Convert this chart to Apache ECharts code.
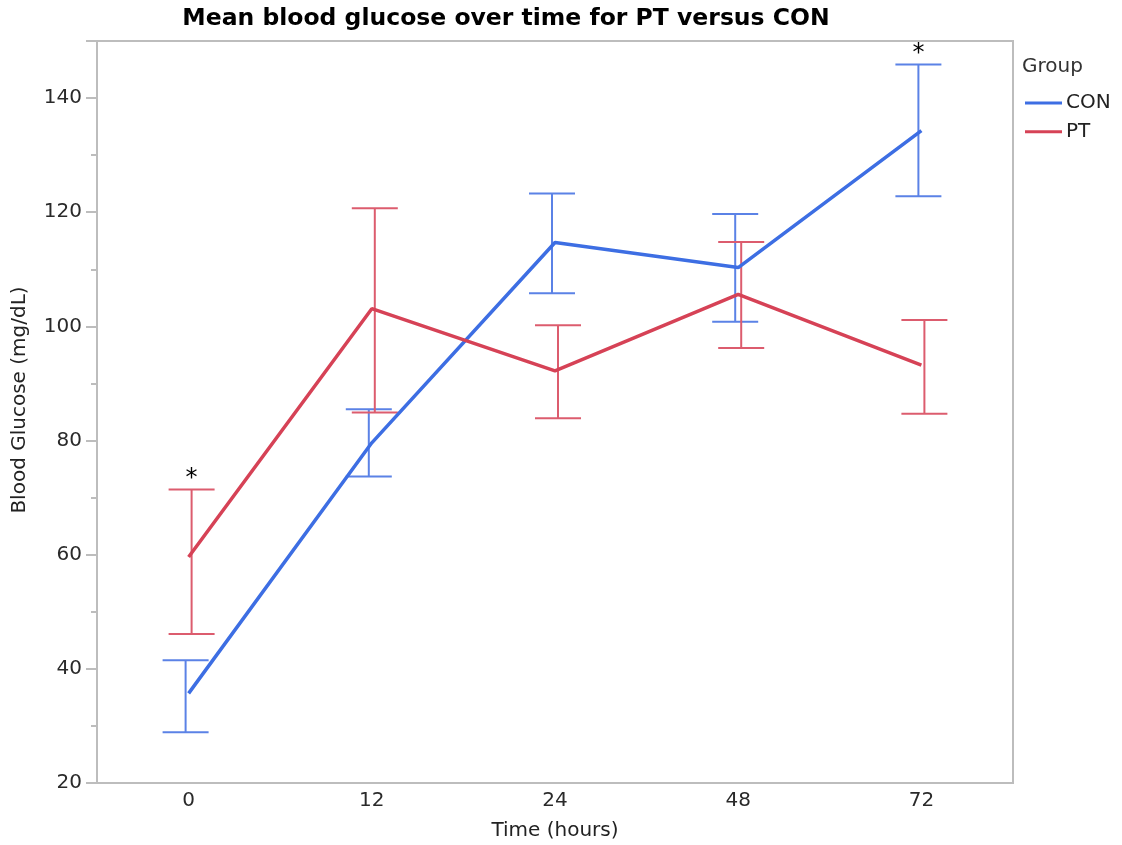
<!DOCTYPE html>
<html>
<head>
<meta charset="utf-8">
<script src="https://cdn.jsdelivr.net/npm/echarts@6/dist/echarts.min.js"></script>
<style>
  html, body { margin: 0; padding: 0; background: #fff; }
  #chart { width: 1122px; height: 845px; }
</style>
</head>
<body>
<div id="chart"></div>
<script>
// Time points (hours)
const timeLabels = ['0', '12', '24', '48', '72'];

// Group means (mg/dL)
const conMean = [35.7, 79.6, 114.7, 110.3, 134.3];
const ptMean  = [59.6, 103.1, 92.2, 105.6, 93.2];

// Error bar bounds (mg/dL)
const conLow  = [28.9, 73.7, 105.8, 100.8, 122.8];
const conHigh = [41.5, 85.5, 123.3, 119.7, 145.9];
const ptLow   = [46.1, 84.9, 83.9, 96.2, 84.7];
const ptHigh  = [71.4, 120.7, 100.2, 114.8, 101.1];

// Significance flags (1 = marked with an asterisk)
const conSig = [0, 0, 0, 0, 1];
const ptSig  = [1, 0, 0, 0, 0];

const yTicks = { min: 20, max: 150, interval: 20 };

const blue = '#3d6ee3';
const red = '#d64256';
const blueBar = '#5b82e6';
const redBar = '#dc5c6e';
const axisGray = '#bdbdbd';

const fontFamily = '"DejaVu Sans", "Open Sans", sans-serif';

function errorBarSeries(name, low, high, sig, color, offset) {
  const data = low.map((lo, i) => [i, lo, high[i], sig[i]]);
  return {
    type: 'custom',
    name: name,
    z: 1,
    silent: true,
    renderItem: function (params, api) {
      const i = api.value(0);
      const lo = api.coord([i, api.value(1)]);
      const hi = api.coord([i, api.value(2)]);
      const x = lo[0] + offset;
      const half = 23;
      const style = { stroke: color, lineWidth: 2 };
      const children = [
        { type: 'line', shape: { x1: x, y1: hi[1], x2: x, y2: lo[1] }, style: style },
        { type: 'line', shape: { x1: x - half, y1: hi[1], x2: x + half, y2: hi[1] }, style: style },
        { type: 'line', shape: { x1: x - half, y1: lo[1], x2: x + half, y2: lo[1] }, style: style }
      ];
      if (api.value(3)) {
        children.push({
          type: 'text',
          style: {
            text: '*', x: x, y: hi[1] + 1,
            align: 'center', verticalAlign: 'bottom',
            font: '24px "DejaVu Sans", sans-serif', fill: '#000'
          }
        });
      }
      return { type: 'group', children: children };
    },
    data: data
  };
}

const chart = echarts.init(document.getElementById('chart'), null, { renderer: 'canvas' });

chart.setOption({
  animation: false,
  backgroundColor: '#fff',
  title: [
    {
      text: 'Mean blood glucose over time for PT versus CON',
      left: 506, top: 7, textAlign: 'center', padding: 0,
      textStyle: { fontFamily: fontFamily, fontWeight: 'bold', fontSize: 23.5, color: '#000' }
    },
    {
      text: 'Group',
      left: 1022, top: 57, padding: 0,
      textStyle: { fontFamily: fontFamily, fontWeight: 'normal', fontSize: 20, color: '#333' }
    }
  ],
  legend: {
    orient: 'vertical',
    left: 1025, top: 93, padding: 0,
    icon: 'rect',
    itemWidth: 37, itemHeight: 3, itemGap: 8.7,
    textStyle: { fontFamily: fontFamily, fontSize: 20, lineHeight: 20, color: '#222', padding: [0, 0, 0, -1] },
    data: ['CON', 'PT']
  },
  grid: {
    left: 97, right: 109, top: 41, bottom: 62,
    outerBoundsMode: 'none',
    containLabel: false,
    show: true, borderColor: axisGray, borderWidth: 2, backgroundColor: '#fff'
  },
  xAxis: {
    type: 'category',
    data: timeLabels,
    boundaryGap: true,
    name: 'Time (hours)',
    nameLocation: 'middle',
    nameGap: 38,
    nameTextStyle: { fontFamily: fontFamily, fontSize: 20, color: '#222' },
    axisLine: { lineStyle: { color: axisGray, width: 2 } },
    axisTick: { show: false },
    axisLabel: { fontFamily: fontFamily, fontSize: 20, color: '#2a2a2a', margin: 8 },
    splitLine: { show: false }
  },
  yAxis: {
    type: 'value',
    min: yTicks.min, max: yTicks.max, interval: yTicks.interval,
    name: 'Blood Glucose (mg/dL)',
    nameLocation: 'middle',
    nameGap: 67,
    nameTextStyle: { fontFamily: fontFamily, fontSize: 20, color: '#222', padding: [0, 0, 0, 24] },
    axisLine: { show: true, lineStyle: { color: axisGray, width: 2 } },
    axisTick: { show: true, inside: false, length: 11, lineStyle: { color: axisGray, width: 2 } },
    minorTick: { show: true, splitNumber: 2, length: 6, lineStyle: { color: axisGray, width: 2 } },
    axisLabel: {
      fontFamily: fontFamily, fontSize: 20, color: '#2a2a2a', margin: 15,
      showMaxLabel: false,
      formatter: function (v) { return v === yTicks.max ? '' : String(v); }
    },
    splitLine: { show: false },
    minorSplitLine: { show: false }
  },
  series: [
    errorBarSeries('CON bars', conLow, conHigh, conSig, blueBar, -3),
    errorBarSeries('PT bars', ptLow, ptHigh, ptSig, redBar, 3),
    {
      name: 'CON', type: 'line', data: conMean, z: 3,
      symbol: 'none', lineStyle: { color: blue, width: 3.5 }, itemStyle: { color: blue }
    },
    {
      name: 'PT', type: 'line', data: ptMean, z: 3,
      symbol: 'none', lineStyle: { color: red, width: 3.5 }, itemStyle: { color: red }
    }
  ]
});
</script>
</body>
</html>
